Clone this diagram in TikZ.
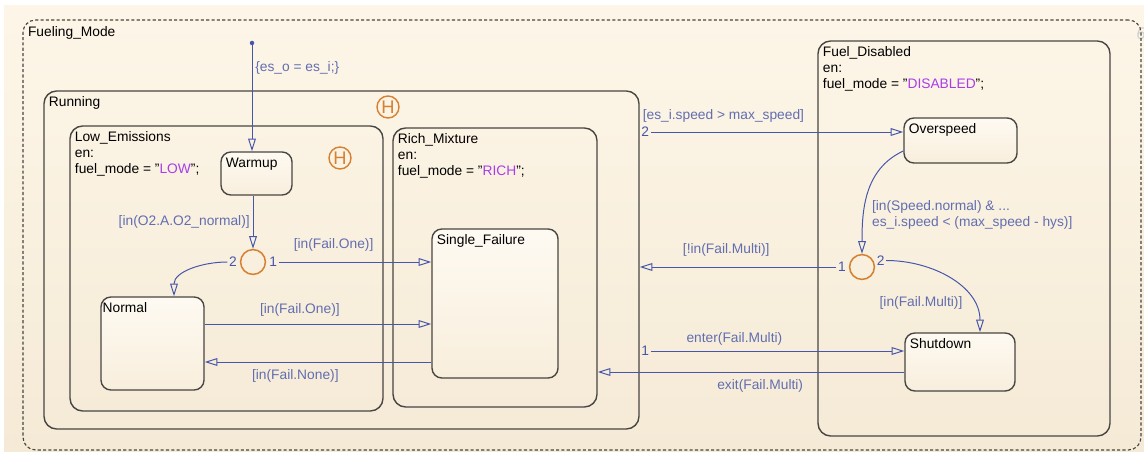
\documentclass[tikz,border=0pt]{standalone}
\usepackage{fontspec}
\setmainfont{Liberation Sans}
\usepackage{xcolor}
\usepackage{tikz}
\usetikzlibrary{
  arrows.meta,
  positioning,
  fit,
  calc
}
\definecolor{sfblue}{RGB}{70, 86, 170}
\definecolor{sflabel}{RGB}{98, 110, 176}
\definecolor{sforange}{RGB}{214, 128, 48}
\definecolor{sfpurple}{RGB}{170, 60, 235}
\definecolor{sfedge}{RGB}{72, 70, 66}
\definecolor{sfbgtop}{RGB}{253, 246, 232}
\definecolor{sfbgbot}{RGB}{245, 234, 214}
\definecolor{sfstatetop}{RGB}{254, 250, 242}
\definecolor{sfstatebot}{RGB}{248, 238, 220}

\newcommand{\fmode}[1]{fuel\_mode = "\textcolor{sfpurple}{#1}";}

\begin{document}
\begin{tikzpicture}[
  x=0.025cm, y=-0.025cm,
  font=\fontsize{9.8}{11.4}\selectfont,
  superstate/.style={
    draw=sfedge, line width=1pt, rounded corners=9pt, inner sep=0pt
  },
  leafstate/.style={
    draw=sfedge, line width=1pt, rounded corners=7pt, inner sep=0pt,
    top color=sfstatetop, bottom color=sfstatebot
  },
  title/.style={
    anchor=north west, align=left, inner xsep=3.8pt, inner ysep=4.5pt,
    text=black
  },
  hist/.style={
    circle, draw=sforange, line width=1pt, text=sforange, inner sep=0pt,
    minimum size=0.55cm, font=\fontsize{13}{13}\selectfont
  },
  junc/.style={
    circle, draw=sforange, line width=1.1pt, minimum size=0.62cm, inner sep=0pt
  },
  trans/.style={
    draw=sfblue, line width=0.7pt,
    -{Triangle[open, length=9pt, width=5.5pt]}
  },
  tlabel/.style={text=sflabel, inner sep=2pt},
  num/.style={text=sfblue, inner sep=1pt}
]
\useasboundingbox (0,0) rectangle (1144,452);
\fill[top color=sfbgtop, bottom color=sfbgbot] (4,6) rectangle (1144,452);
\node[text=black!18, font=\fontsize{12}{12}\selectfont\itshape] (chartno) at (1141,34) {6};

% superstates
\node[superstate, dash pattern=on 2.2pt off 1.6pt, line width=0.8pt,
  fit={(23,20) (1141,450)},
  label={[title]north west:Fueling\_Mode}] (fueling) {};
\node[superstate, fit={(44,91) (639,429)},
  label={[title]north west:Running}] (running) {};
\node[superstate, fit={(70,126) (383,411)},
  label={[title]north west:{Low\_Emissions\\en:\\\fmode{LOW}}}] (lowem) {};
\node[superstate, fit={(393,128) (597,407)},
  label={[title]north west:{Rich\_Mixture\\en:\\\fmode{RICH}}}] (rich) {};
\node[superstate, fit={(818,41) (1110,436)},
  label={[title]north west:{Fuel\_Disabled\\en:\\\fmode{DISABLED}}}] (fueldis) {};

% leaf states
\node[leafstate, fit={(221,152) (292,195)},
  label={[title]north west:Warmup}] (warmup) {};
\node[leafstate, fit={(101,297) (204,390)},
  label={[title, inner xsep=1.5pt]north west:Normal}] (normal) {};
\node[leafstate, fit={(432,229) (558,378)},
  label={[title]north west:Single\_Failure}] (sf) {};
\node[leafstate, fit={(904,118) (1017,163)},
  label={[title]north west:Overspeed}] (overspeed) {};
\node[leafstate, fit={(905,333) (1015,391)},
  label={[title]north west:Shutdown}] (shutdown) {};

\node[hist] (runhist) at (388,107) {H};
\node[hist] (lowhist) at (340,158) {H};

% junctions
\node[junc] (jlow) at (253,262) {};
\node[num, left=1pt of jlow] (jlow2) {2};
\node[num, right=1pt of jlow] (jlow1) {1};
\node[junc] (jdis) at (862,267) {};
\node[num, left=1pt of jdis] (jdis1) {1};
\node[num, anchor=south west] (jdis2) at (jdis.east) {2};

% transitions
\coordinate (dflt) at (252,43);
\fill[sfblue] (dflt) circle (1.6pt);
\draw[trans] (dflt) -- (dflt |- warmup.north)
  node[tlabel, pos=0.23, right] (lbldflt) {\{es\_o = es\_i;\}};
\draw[trans] (warmup.south -| jlow) -- (jlow.north)
  node[tlabel, pos=0.5, left] (lblo2) {[in(O2.A.O2\_normal)]};
\draw[trans] (jlow2.west) to[out=180, in=90] (normal.north -| 174,0);
\draw[trans] (jlow1.east) -- (sf.west |- jlow1)
  node[tlabel, pos=0.36, above=5pt] (lblone1) {[in(Fail.One)]};
\draw[trans] (normal.east |- 0,324) -- (sf.west |- 0,324)
  node[tlabel, pos=0.42, above=3pt] (lblone2) {[in(Fail.One)]};
\draw[trans] (sf.west |- 0,362) -- (normal.east |- 0,362)
  node[tlabel, pos=0.6, below=3pt] (lblnone) {[in(Fail.None)]};

\node[num, anchor=west] (run2) at (running.east |- 0,132) {2};
\draw[trans] (run2.east) -- (overspeed.west |- run2);
\node[tlabel, anchor=south west] (lblspeed) at (run2.north west)
  {[es\_i.speed > max\_speed]};
\draw[trans] (overspeed.west |- 0,151) to[out=205, in=90] (jdis.north);
\node[tlabel, anchor=west, align=left] (lblhys) at (869,215)
  {[in(Speed.normal) \& ...\\es\_i.speed < (max\_speed - hys)]};
\draw[trans] (jdis1.west) -- (running.east |- jdis1)
  node[tlabel, pos=0.56, above=5pt] (lblnotmulti) {[!in(Fail.Multi)]};
\draw[trans] (jdis2.east) to[out=0, in=90] (shutdown.north -| 980,0);
\node[tlabel] (lblmulti) at (921,303) {[in(Fail.Multi)]};
\node[num, anchor=west] (run1) at (running.east |- 0,351) {1};
\draw[trans] (run1.east) -- (shutdown.west |- run1)
  node[tlabel, pos=0.33, above=2pt] (lblenter) {enter(Fail.Multi)};
\draw[trans] (shutdown.west |- 0,372) -- (rich.east |- 0,372)
  node[tlabel, pos=0.47, below=3pt] (lblexit) {exit(Fail.Multi)};
\end{tikzpicture}
\end{document}
